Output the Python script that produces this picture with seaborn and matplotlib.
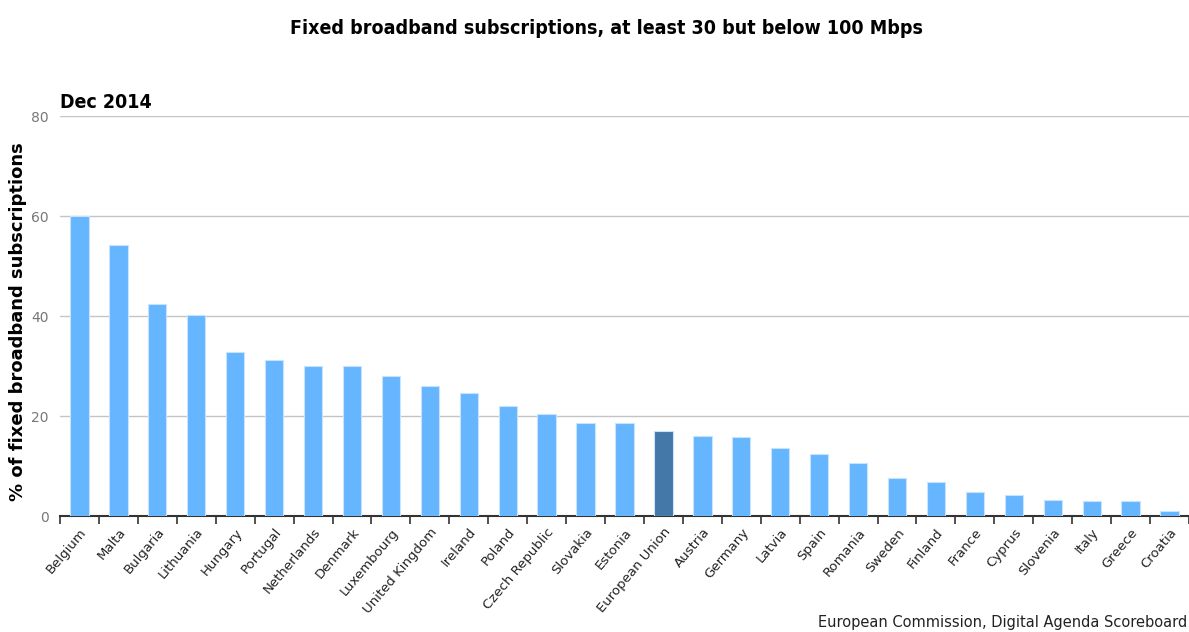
import pandas as pd
import seaborn as sns
import matplotlib.pyplot as plt
from matplotlib.ticker import FixedLocator

# Values (Dec 2014)
countries = ['Belgium', 'Malta', 'Bulgaria', 'Lithuania', 'Hungary', 'Portugal',
             'Netherlands', 'Denmark', 'Luxembourg', 'United Kingdom', 'Ireland',
             'Poland', 'Czech Republic', 'Slovakia', 'Estonia', 'European Union',
             'Austria', 'Germany', 'Latvia', 'Spain', 'Romania', 'Sweden', 'Finland',
             'France', 'Cyprus', 'Slovenia', 'Italy', 'Greece', 'Croatia']
share = [60.1, 54.2, 42.4, 40.3, 32.8, 31.2, 30.0, 30.0, 28.1, 26.1, 24.6,
         22.0, 20.5, 18.7, 18.7, 17.0, 16.1, 15.8, 13.7, 12.5, 10.7, 7.7, 6.9,
         4.9, 4.3, 3.3, 3.1, 3.1, 1.0]
yticks = [0, 20, 40, 60, 80]

df = pd.DataFrame({'country': countries, 'share': share})
palette = {c: ('#4478a8' if c == 'European Union' else '#66b5ff') for c in countries}

sns.set_style('white')
plt.rcParams['font.family'] = ['DejaVu Sans']
plt.rcParams['text.color'] = '#000000'

fig = plt.figure(figsize=(11.89, 6.32), dpi=100)
ax = fig.add_axes([60 / 1189, 1 - 516 / 632, 1129 / 1189, 400 / 632])

sns.barplot(data=df, x='country', y='share', hue='country', palette=palette,
            legend=False, width=0.47, saturation=1, edgecolor='#c6e3ff',
            linewidth=0.8, ax=ax, zorder=3)

ax.set_xlim(-0.5, len(countries) - 0.5)
ax.set_ylim(0, 80)
ax.set_yticks(yticks)
ax.yaxis.grid(True, color='#c4c4c4', linewidth=1)
ax.set_axisbelow(True)
ax.set_xlabel('')
ax.set_ylabel('')

for s in ['left', 'top', 'right']:
    ax.spines[s].set_visible(False)
ax.spines['bottom'].set_color('#333333')
ax.spines['bottom'].set_linewidth(1.5)

ax.tick_params(axis='y', length=0, pad=8, labelsize=10, labelcolor='#777777')
ax.tick_params(axis='x', which='major', length=0, pad=7, labelsize=9.5, labelcolor='#222222')
ax.xaxis.set_minor_locator(FixedLocator([i - 0.5 for i in range(len(countries) + 1)]))
ax.tick_params(axis='x', which='minor', bottom=True, length=6, width=1.2,
               color='#333333', direction='out')
plt.setp(ax.get_xticklabels(), rotation=50, ha='right', rotation_mode='anchor')

fig.text(606 / 1189, 1 - 28 / 632, 'Fixed broadband subscriptions, at least 30 but below 100 Mbps',
         ha='center', va='center', fontsize=14, fontweight='bold', fontstretch='condensed')
fig.text(60 / 1189, 1 - 102 / 632, 'Dec 2014', ha='left', va='center',
         fontsize=14, fontweight='bold', fontstretch='condensed')
fig.text(18 / 1189, 1 - 322 / 632, '% of fixed broadband subscriptions', rotation=90,
         ha='center', va='center', fontsize=13, fontweight='bold')
fig.text(1187 / 1189, 1 - 622 / 632, 'European Commission, Digital Agenda Scoreboard',
         ha='right', va='center', fontsize=10.5, color='#222222')

fig.savefig('out.png', dpi=100)
